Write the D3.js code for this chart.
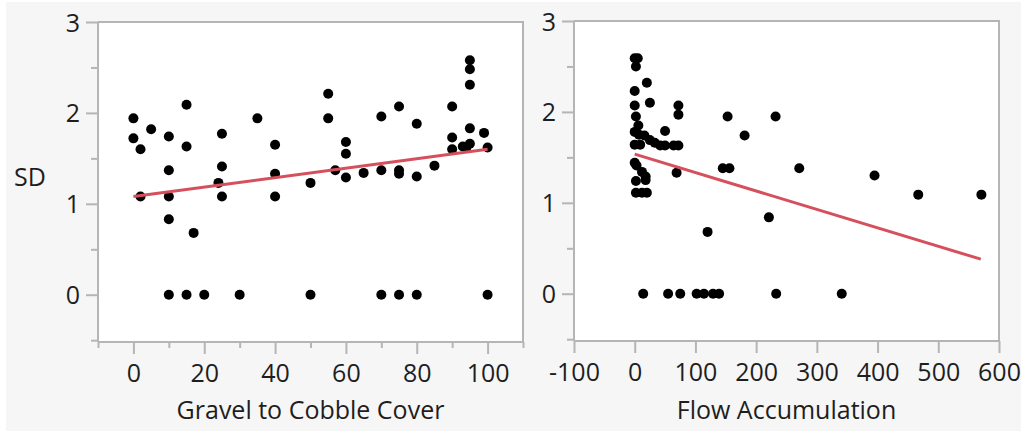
<!DOCTYPE html>
<html>
<head>
<meta charset="utf-8">
<script src="https://cdn.jsdelivr.net/npm/d3@7"></script>
<style>
  html, body { margin: 0; padding: 0; background: #ffffff; }
  svg { display: block; }
  text { font-family: "Open Sans", "Noto Sans", sans-serif; fill: #1e1e1e; }
</style>
</head>
<body>
<svg id="chart" width="1021" height="433"></svg>
<script>
// ---- Data ----
const gravel = [0,0,2,5,2,10,10,10,10,10,15,15,15,17,20,25,25,25,24,30,35,40,40,40,50,50,55,55,57,60,60,60,65,70,70,70,75,75,75,75,80,80,80,85,90,90,90,93,95,95,95,95,95,94,99,100,100];
const sdGravel = [1.94,1.72,1.60,1.82,1.08,1.74,1.37,1.08,0.83,0,2.09,1.63,0,0.68,0,1.77,1.41,1.08,1.23,0,1.94,1.65,1.33,1.08,1.23,0,2.21,1.94,1.37,1.68,1.55,1.29,1.34,1.96,1.37,0,2.07,1.37,1.33,0,1.88,1.30,0,1.42,2.07,1.73,1.60,1.63,2.58,2.48,2.31,1.83,1.66,1.62,1.78,1.62,0];

const flow = [0,5,2,20,0,25,0,72,72,2,6,0,50,7,16,25,0,9,50,64,72,33,42,0,3,12,18,69,18,2,2,12,20,153,232,181,145,156,271,395,467,571,221,120,14,55,75,102,114,129,139,233,341];
const sdFlow = [2.59,2.59,2.5,2.32,2.23,2.10,2.07,2.07,1.97,1.95,1.85,1.78,1.79,1.75,1.74,1.69,1.64,1.64,1.63,1.63,1.63,1.66,1.63,1.44,1.41,1.34,1.29,1.33,1.25,1.24,1.11,1.11,1.11,1.95,1.95,1.74,1.38,1.38,1.38,1.30,1.09,1.09,0.84,0.68,0,0,0,0,0,0,0,0,0];

const fitGravelX = [0, 100];
const fitGravelY = [1.08, 1.60];
const fitFlowX = [0, 570];
const fitFlowY = [1.535, 0.38];

const yMajorTicks = [0, 1, 2, 3];
const yMinorTicks = [-0.5, 0.5, 1.5, 2.5];
const gravelMajorTicks = [0, 20, 40, 60, 80, 100];
const gravelMinorTicks = [-10, 10, 30, 50, 70, 90, 110];
const flowMajorTicks = [-100, 0, 100, 200, 300, 400, 500, 600];

const yLabel = "SD";
const gravelLabel = "Gravel to Cobble Cover";
const flowLabel = "Flow Accumulation";

// ---- Drawing ----
const svg = d3.select("#chart");
const axisColor = "#b5b5b5";
const fitColor = "#d5505c";
const plainFormat = d => String(d);

svg.append("rect").attr("x", 6).attr("y", 2).attr("width", 1015).attr("height", 429).attr("fill", "#f6f6f6");

function panel(opts) {
  const { x0, x1, y0, y1, xDomain, xMajor, xMinor, xs, ys, fx, fy, xTitle } = opts;
  const x = d3.scaleLinear().domain(xDomain).range([x0, x1]);
  const y = d3.scaleLinear().domain([-0.52, 3]).range([y1, y0]);
  const g = svg.append("g");

  g.append("rect").attr("x", x0).attr("y", y0).attr("width", x1 - x0).attr("height", y1 - y0).attr("fill", "#ffffff");
  g.append("path").attr("d", `M${x0},${y0}H${x1}V${y1}`).attr("fill", "none").attr("stroke", axisColor).attr("stroke-width", 2);

  // y axis
  const yAxis = d3.axisLeft(y).tickValues(yMajorTicks).tickSize(12).tickPadding(6).tickFormat(plainFormat);
  const ya = g.append("g").attr("transform", `translate(${x0},0)`).call(yAxis);
  const yMin = d3.axisLeft(y).tickValues(yMinorTicks).tickSize(7).tickFormat("");
  const ym = g.append("g").attr("transform", `translate(${x0},0)`).call(yMin);
  [ya, ym].forEach(a => {
    a.select(".domain").remove();
    a.selectAll("line").attr("stroke", axisColor).attr("stroke-width", 2);
  });
  ya.selectAll("text").attr("font-size", 25).attr("fill", "#1e1e1e").attr("dy", "0.36em")
    .style("font-family", '"Open Sans", "Noto Sans", sans-serif');

  // x axis
  const xAxis = d3.axisBottom(x).tickValues(xMajor).tickSize(12).tickPadding(10).tickFormat(plainFormat);
  const xa = g.append("g").attr("transform", `translate(0,${y1})`).call(xAxis);
  const axes = [xa];
  if (xMinor) {
    const xMin = d3.axisBottom(x).tickValues(xMinor).tickSize(6).tickFormat("");
    axes.push(g.append("g").attr("transform", `translate(0,${y1})`).call(xMin));
  }
  axes.forEach(a => {
    a.select(".domain").remove();
    a.selectAll("line").attr("stroke", axisColor).attr("stroke-width", 2);
  });
  xa.selectAll("text").attr("font-size", 25).attr("fill", "#1e1e1e")
    .style("font-family", '"Open Sans", "Noto Sans", sans-serif');

  // axis lines
  g.append("line").attr("x1", x0).attr("x2", x0).attr("y1", y0).attr("y2", y1).attr("stroke", axisColor).attr("stroke-width", 2);
  g.append("line").attr("x1", x0).attr("x2", x1).attr("y1", y1).attr("y2", y1).attr("stroke", axisColor).attr("stroke-width", 2);

  // points
  g.append("g").selectAll("circle").data(xs.map((v, i) => [v, ys[i]])).join("circle")
    .attr("cx", d => x(d[0])).attr("cy", d => y(d[1])).attr("r", 5).attr("fill", "#000");

  // fit line
  g.append("line")
    .attr("x1", x(fx[0])).attr("y1", y(fy[0])).attr("x2", x(fx[1])).attr("y2", y(fy[1]))
    .attr("stroke", fitColor).attr("stroke-width", 3);

  // x title
  g.append("text").attr("x", (x0 + x1) / 2).attr("y", 419).attr("text-anchor", "middle")
    .attr("font-size", 25).text(xTitle);
  return { x, y };
}

panel({ x0: 98, x1: 523, y0: 22, y1: 342, xDomain: [-10, 110], xMajor: gravelMajorTicks, xMinor: gravelMinorTicks,
  xs: gravel, ys: sdGravel, fx: fitGravelX, fy: fitGravelY, xTitle: gravelLabel });
panel({ x0: 574, x1: 999, y0: 21, y1: 341, xDomain: [-100, 600], xMajor: flowMajorTicks, xMinor: null,
  xs: flow, ys: sdFlow, fx: fitFlowX, fy: fitFlowY, xTitle: flowLabel });

svg.append("text").attr("x", 14).attr("y", 186).attr("font-size", 25).text(yLabel);
</script>
</body>
</html>
